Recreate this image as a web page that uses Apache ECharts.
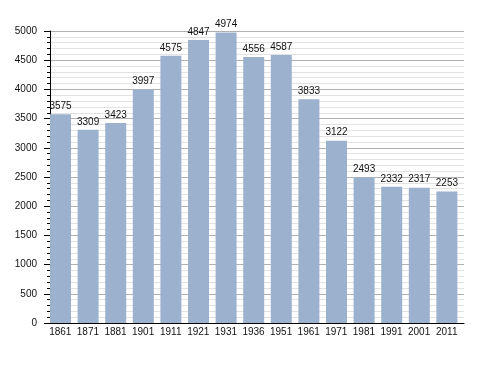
<!DOCTYPE html>
<html>
<head>
<meta charset="utf-8">
<script src="https://cdn.jsdelivr.net/npm/echarts@6/dist/echarts.min.js"></script>
<style>html,body{margin:0;padding:0;background:#fff;}#c{width:488px;height:373px;}</style>
</head>
<body>
<div id="c"></div>
<script>
const categories = ['1861','1871','1881','1901','1911','1921','1931','1936','1951','1961','1971','1981','1991','2001','2011'];
const population = [3575,3309,3423,3997,4575,4847,4974,4556,4587,3833,3122,2493,2332,2317,2253];
const yTicks = {min: 0, max: 5000, interval: 500};

const font = '"Liberation Sans", Arial, sans-serif';
const chart = echarts.init(document.getElementById('c'));
chart.setOption({
  backgroundColor: '#fff',
  animation: false,
  grid: {left: 50, right: 24, top: 31, bottom: 50},
  xAxis: {
    type: 'category',
    data: categories,
    axisLine: {lineStyle: {color: '#000', width: 1}},
    axisTick: {show: false},
    axisLabel: {color: '#111', fontSize: 10, fontFamily: font, margin: 4, padding: [0, 7, 0, 0], interval: 0},
    splitLine: {show: false}
  },
  yAxis: {
    type: 'value',
    min: yTicks.min, max: yTicks.max, interval: yTicks.interval,
    axisLine: {show: true, lineStyle: {color: '#000', width: 1}},
    axisTick: {show: true, length: 6, lineStyle: {color: '#000'}},
    minorTick: {show: true, splitNumber: 5, length: 3, lineStyle: {color: '#000'}},
    axisLabel: {color: '#111', fontSize: 10, fontFamily: font, margin: 13, formatter: v => String(v)},
    splitLine: {show: true, lineStyle: {color: '#b0b0b0', width: 1}},
    minorSplitLine: {show: true, lineStyle: {color: '#e2e2e2', width: 1}}
  },
  series: [
    {
      type: 'bar',
      data: population,
      barWidth: 21,
      barGap: '0%',
      barCategoryGap: '0%',
      itemStyle: {color: '#9bb1cd'},
      label: {show: true, position: 'top', distance: 3, color: '#111', fontSize: 10, fontFamily: font}
    },
    {
      type: 'bar',
      data: population.map(() => null),
      barWidth: 6.6,
      silent: true
    }
  ]
});
</script>
</body>
</html>
